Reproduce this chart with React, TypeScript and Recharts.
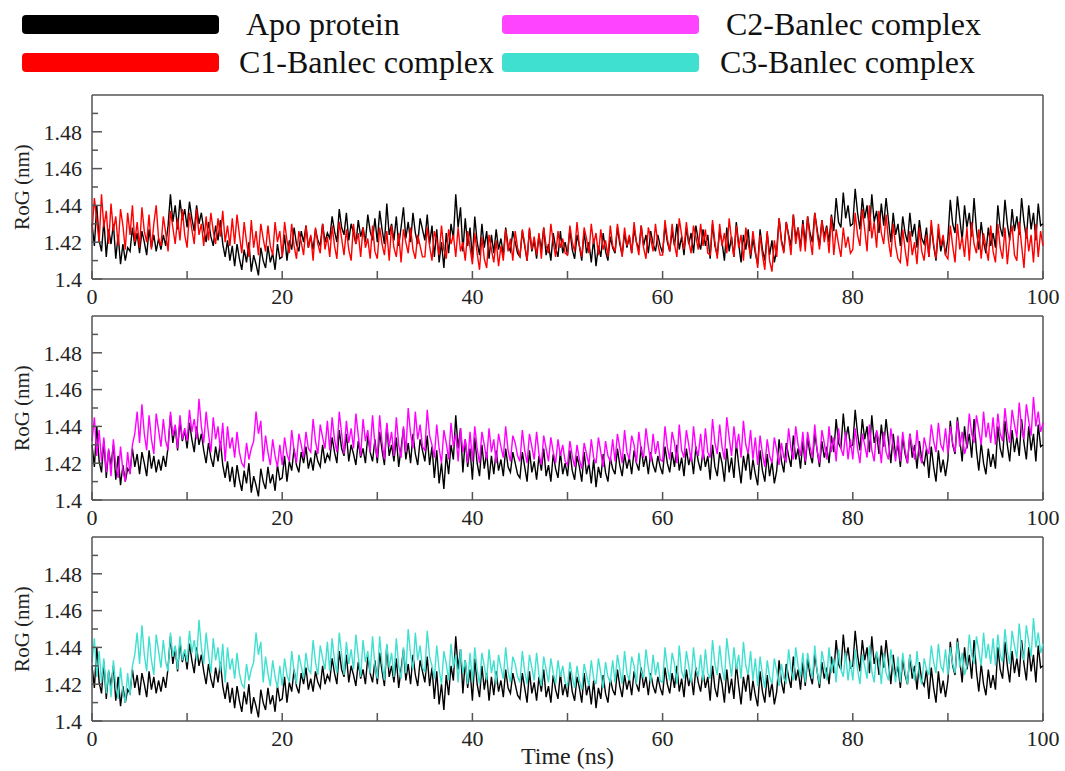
import { LineChart, Line, XAxis, YAxis, ReferenceLine } from "recharts";

const TIME_STEP_NS = 0.25;

const apoRog = [
  1.430, 1.418, 1.440, 1.421, 1.415, 1.432, 1.412, 1.427, 1.419, 1.430, 1.411, 1.424, 1.408, 1.419, 1.410, 1.417, 1.415, 1.428, 1.418, 1.425,
  1.414, 1.426, 1.420, 1.413, 1.427, 1.417, 1.424, 1.415, 1.422, 1.416, 1.424, 1.418, 1.429, 1.446, 1.431, 1.440, 1.427, 1.443, 1.432, 1.438,
  1.428, 1.442, 1.433, 1.426, 1.440, 1.430, 1.436, 1.427, 1.420, 1.431, 1.423, 1.418, 1.429, 1.421, 1.432, 1.419, 1.412, 1.421, 1.410, 1.418,
  1.407, 1.419, 1.411, 1.405, 1.416, 1.409, 1.420, 1.404, 1.413, 1.408, 1.402, 1.417, 1.410, 1.406, 1.418, 1.409, 1.414, 1.405, 1.419, 1.411,
  1.412, 1.424, 1.410, 1.421, 1.416, 1.428, 1.419, 1.415, 1.426, 1.420, 1.429, 1.417, 1.423, 1.416, 1.427, 1.421, 1.418, 1.430, 1.420, 1.425,
  1.422, 1.434, 1.426, 1.420, 1.438, 1.428, 1.424, 1.436, 1.421, 1.430, 1.425, 1.419, 1.432, 1.423, 1.428, 1.420, 1.435, 1.426, 1.421, 1.433,
  1.420, 1.437, 1.427, 1.419, 1.441, 1.424, 1.430, 1.421, 1.434, 1.418, 1.428, 1.439, 1.422, 1.431, 1.420, 1.436, 1.425, 1.419, 1.433, 1.427,
  1.421, 1.435, 1.419, 1.429, 1.412, 1.427, 1.409, 1.420, 1.406, 1.425, 1.414, 1.430, 1.422, 1.446, 1.428, 1.439, 1.415, 1.433, 1.418, 1.428,
  1.411, 1.434, 1.420, 1.413, 1.430, 1.417, 1.426, 1.411, 1.424, 1.414, 1.427, 1.416, 1.422, 1.413, 1.428, 1.418, 1.415, 1.426, 1.420, 1.414,
  1.412, 1.426, 1.418, 1.410, 1.427, 1.415, 1.421, 1.411, 1.424, 1.416, 1.428, 1.413, 1.419, 1.410, 1.425, 1.417, 1.412, 1.426, 1.414, 1.420,
  1.413, 1.427, 1.416, 1.411, 1.424, 1.418, 1.410, 1.426, 1.414, 1.420, 1.409, 1.422, 1.407, 1.418, 1.412, 1.425, 1.415, 1.410, 1.423, 1.417,
  1.414, 1.428, 1.419, 1.413, 1.425, 1.417, 1.423, 1.414, 1.427, 1.420, 1.416, 1.429, 1.418, 1.424, 1.414, 1.426, 1.419, 1.415, 1.424, 1.418,
  1.414, 1.429, 1.420, 1.415, 1.426, 1.418, 1.430, 1.416, 1.423, 1.413, 1.428, 1.419, 1.425, 1.414, 1.429, 1.421, 1.416, 1.427, 1.418, 1.424,
  1.411, 1.430, 1.418, 1.413, 1.426, 1.420, 1.410, 1.428, 1.415, 1.423, 1.412, 1.431, 1.419, 1.409, 1.424, 1.416, 1.427, 1.411, 1.422, 1.414,
  1.408, 1.427, 1.416, 1.410, 1.425, 1.413, 1.421, 1.409, 1.416, 1.433, 1.421, 1.415, 1.431, 1.424, 1.418, 1.435, 1.422, 1.428, 1.417, 1.432,
  1.419, 1.434, 1.425, 1.420, 1.436, 1.427, 1.418, 1.432, 1.423, 1.429, 1.420, 1.435, 1.426, 1.444, 1.431, 1.428, 1.447, 1.433, 1.440, 1.429,
  1.430, 1.449, 1.436, 1.427, 1.444, 1.433, 1.440, 1.426, 1.446, 1.431, 1.437, 1.425, 1.441, 1.429, 1.444, 1.432, 1.420, 1.436, 1.424, 1.430,
  1.418, 1.434, 1.425, 1.420, 1.436, 1.423, 1.430, 1.417, 1.432, 1.422, 1.419, 1.428, 1.412, 1.429, 1.418, 1.410, 1.427, 1.415, 1.422, 1.413,
  1.422, 1.443, 1.430, 1.425, 1.445, 1.433, 1.421, 1.440, 1.428, 1.436, 1.423, 1.444, 1.427, 1.416, 1.431, 1.420, 1.414, 1.428, 1.418, 1.425,
  1.417, 1.440, 1.428, 1.423, 1.443, 1.430, 1.421, 1.438, 1.426, 1.434, 1.424, 1.444, 1.431, 1.422, 1.440, 1.427, 1.436, 1.421, 1.441, 1.429,
  1.430,
];

const c1Rog = [
  1.425, 1.444, 1.432, 1.420, 1.446, 1.428, 1.437, 1.419, 1.441, 1.426, 1.434, 1.418, 1.438, 1.429, 1.416, 1.436, 1.424, 1.440, 1.420, 1.431,
  1.417, 1.439, 1.426, 1.420, 1.435, 1.416, 1.430, 1.440, 1.422, 1.418, 1.434, 1.425, 1.415, 1.437, 1.428, 1.419, 1.433, 1.421, 1.438, 1.424,
  1.417, 1.436, 1.427, 1.419, 1.438, 1.424, 1.430, 1.418, 1.434, 1.421, 1.436, 1.426, 1.419, 1.433, 1.423, 1.437, 1.420, 1.429, 1.418, 1.433,
  1.419, 1.435, 1.424, 1.414, 1.431, 1.420, 1.412, 1.432, 1.417, 1.426, 1.413, 1.430, 1.422, 1.415, 1.429, 1.418, 1.413, 1.431, 1.420, 1.426,
  1.412, 1.431, 1.421, 1.414, 1.430, 1.418, 1.411, 1.426, 1.420, 1.413, 1.429, 1.417, 1.424, 1.410, 1.428, 1.419, 1.414, 1.430, 1.416, 1.423,
  1.412, 1.429, 1.418, 1.411, 1.431, 1.422, 1.413, 1.427, 1.416, 1.410, 1.430, 1.419, 1.425, 1.412, 1.428, 1.417, 1.422, 1.411, 1.429, 1.415,
  1.411, 1.428, 1.419, 1.413, 1.426, 1.410, 1.429, 1.417, 1.412, 1.425, 1.409, 1.427, 1.420, 1.414, 1.428, 1.416, 1.411, 1.424, 1.418, 1.412,
  1.412, 1.428, 1.418, 1.410, 1.426, 1.421, 1.413, 1.429, 1.416, 1.411, 1.427, 1.419, 1.424, 1.412, 1.428, 1.415, 1.420, 1.410, 1.426, 1.417,
  1.408, 1.425, 1.414, 1.405, 1.423, 1.411, 1.406, 1.424, 1.416, 1.409, 1.421, 1.407, 1.418, 1.410, 1.427, 1.415, 1.422, 1.410, 1.426, 1.417,
  1.412, 1.427, 1.419, 1.410, 1.428, 1.416, 1.423, 1.413, 1.425, 1.411, 1.428, 1.418, 1.414, 1.430, 1.420, 1.412, 1.426, 1.417, 1.422, 1.414,
  1.413, 1.429, 1.420, 1.415, 1.431, 1.418, 1.412, 1.428, 1.422, 1.414, 1.430, 1.419, 1.425, 1.413, 1.427, 1.416, 1.421, 1.412, 1.429, 1.418,
  1.415, 1.430, 1.421, 1.412, 1.428, 1.418, 1.424, 1.414, 1.431, 1.420, 1.413, 1.429, 1.417, 1.411, 1.428, 1.422, 1.415, 1.430, 1.419, 1.413,
  1.413, 1.432, 1.422, 1.415, 1.430, 1.419, 1.412, 1.433, 1.424, 1.416, 1.431, 1.420, 1.414, 1.429, 1.423, 1.416, 1.430, 1.418, 1.427, 1.414,
  1.413, 1.432, 1.420, 1.411, 1.430, 1.418, 1.425, 1.414, 1.433, 1.421, 1.412, 1.429, 1.417, 1.424, 1.410, 1.428, 1.419, 1.413, 1.426, 1.416,
  1.406, 1.424, 1.413, 1.405, 1.426, 1.410, 1.404, 1.421, 1.412, 1.433, 1.420, 1.414, 1.431, 1.423, 1.413, 1.435, 1.419, 1.428, 1.415, 1.430,
  1.415, 1.434, 1.422, 1.413, 1.436, 1.425, 1.416, 1.432, 1.420, 1.428, 1.414, 1.434, 1.413, 1.427, 1.419, 1.412, 1.428, 1.417, 1.423, 1.414,
  1.416, 1.436, 1.424, 1.418, 1.438, 1.427, 1.415, 1.440, 1.422, 1.431, 1.417, 1.437, 1.425, 1.419, 1.435, 1.421, 1.412, 1.430, 1.418, 1.411,
  1.409, 1.427, 1.416, 1.407, 1.426, 1.413, 1.420, 1.408, 1.428, 1.415, 1.410, 1.424, 1.412, 1.432, 1.419, 1.411, 1.430, 1.418, 1.424, 1.413,
  1.411, 1.429, 1.418, 1.409, 1.430, 1.416, 1.423, 1.412, 1.428, 1.410, 1.431, 1.419, 1.414, 1.427, 1.411, 1.425, 1.417, 1.410, 1.429, 1.415,
  1.409, 1.430, 1.417, 1.411, 1.428, 1.408, 1.422, 1.429, 1.413, 1.410, 1.431, 1.418, 1.406, 1.428, 1.415, 1.424, 1.409, 1.430, 1.412, 1.426,
  1.418,
];

const c2Rog = [
  1.432, 1.445, 1.424, 1.438, 1.421, 1.434, 1.415, 1.428, 1.413, 1.433, 1.419, 1.412, 1.429, 1.416, 1.410, 1.426, 1.414, 1.430, 1.436, 1.448,
  1.431, 1.452, 1.436, 1.427, 1.446, 1.433, 1.425, 1.447, 1.438, 1.429, 1.444, 1.432, 1.427, 1.448, 1.435, 1.441, 1.428, 1.446, 1.433, 1.439,
  1.432, 1.449, 1.437, 1.444, 1.433, 1.455, 1.440, 1.431, 1.448, 1.436, 1.426, 1.445, 1.433, 1.440, 1.427, 1.442, 1.421, 1.440, 1.428, 1.434,
  1.423, 1.437, 1.426, 1.420, 1.418, 1.431, 1.422, 1.428, 1.432, 1.448, 1.436, 1.443, 1.421, 1.435, 1.426, 1.419, 1.433, 1.424, 1.418, 1.430,
  1.419, 1.434, 1.425, 1.421, 1.438, 1.427, 1.420, 1.436, 1.430, 1.423, 1.437, 1.428, 1.426, 1.444, 1.432, 1.425, 1.441, 1.434, 1.428, 1.443,
  1.427, 1.445, 1.433, 1.426, 1.448, 1.436, 1.425, 1.443, 1.431, 1.439, 1.428, 1.447, 1.435, 1.424, 1.444, 1.432, 1.438, 1.426, 1.446, 1.430,
  1.423, 1.446, 1.431, 1.422, 1.442, 1.429, 1.437, 1.424, 1.445, 1.430, 1.423, 1.440, 1.426, 1.450, 1.436, 1.428, 1.448, 1.433, 1.441, 1.429,
  1.427, 1.449, 1.435, 1.430, 1.423, 1.441, 1.428, 1.420, 1.438, 1.431, 1.422, 1.442, 1.429, 1.436, 1.421, 1.439, 1.426, 1.433, 1.420, 1.437,
  1.421, 1.440, 1.428, 1.420, 1.437, 1.430, 1.422, 1.439, 1.426, 1.433, 1.420, 1.436, 1.429, 1.423, 1.440, 1.427, 1.421, 1.435, 1.431, 1.424,
  1.421, 1.438, 1.427, 1.420, 1.436, 1.429, 1.422, 1.437, 1.425, 1.419, 1.435, 1.428, 1.421, 1.434, 1.426, 1.420, 1.433, 1.424, 1.430, 1.421,
  1.419, 1.432, 1.424, 1.418, 1.430, 1.422, 1.417, 1.431, 1.425, 1.419, 1.433, 1.423, 1.420, 1.434, 1.426, 1.418, 1.432, 1.424, 1.421, 1.433,
  1.421, 1.436, 1.428, 1.420, 1.438, 1.426, 1.422, 1.435, 1.430, 1.420, 1.437, 1.427, 1.423, 1.439, 1.429, 1.421, 1.436, 1.425, 1.432, 1.422,
  1.421, 1.440, 1.429, 1.422, 1.437, 1.431, 1.420, 1.441, 1.427, 1.423, 1.438, 1.430, 1.421, 1.440, 1.428, 1.424, 1.436, 1.422, 1.439, 1.426,
  1.423, 1.444, 1.431, 1.425, 1.441, 1.429, 1.422, 1.445, 1.434, 1.424, 1.440, 1.428, 1.436, 1.423, 1.443, 1.430, 1.425, 1.438, 1.422, 1.434,
  1.419, 1.435, 1.425, 1.418, 1.433, 1.424, 1.420, 1.434, 1.427, 1.419, 1.431, 1.423, 1.421, 1.439, 1.428, 1.422, 1.440, 1.430, 1.424, 1.437,
  1.421, 1.437, 1.429, 1.423, 1.441, 1.427, 1.420, 1.438, 1.431, 1.422, 1.440, 1.426, 1.434, 1.421, 1.439, 1.428, 1.424, 1.437, 1.422, 1.433,
  1.422, 1.439, 1.428, 1.420, 1.436, 1.430, 1.423, 1.441, 1.427, 1.421, 1.438, 1.432, 1.420, 1.437, 1.426, 1.422, 1.439, 1.429, 1.421, 1.435,
  1.421, 1.437, 1.427, 1.420, 1.436, 1.429, 1.422, 1.438, 1.425, 1.420, 1.434, 1.428, 1.425, 1.441, 1.432, 1.426, 1.442, 1.430, 1.427, 1.439,
  1.425, 1.440, 1.431, 1.426, 1.443, 1.429, 1.437, 1.425, 1.430, 1.447, 1.436, 1.431, 1.446, 1.438, 1.430, 1.448, 1.434, 1.442, 1.431, 1.445,
  1.430, 1.447, 1.436, 1.432, 1.450, 1.438, 1.431, 1.449, 1.441, 1.434, 1.453, 1.439, 1.433, 1.452, 1.443, 1.435, 1.456, 1.440, 1.448, 1.437,
  1.442,
];

// the C3 panel shows the very same trace as the C2 panel
const c3Rog = c2Rog;

const xTicks = [0, 10, 20, 30, 40, 50, 60, 70, 80, 90, 100];
const xLabelTicks = [0, 20, 40, 60, 80, 100];
const yTicks = [1.4, 1.41, 1.42, 1.43, 1.44, 1.45, 1.46, 1.47, 1.48, 1.49, 1.5];
const yLabelTicks = [1.4, 1.42, 1.44, 1.46, 1.48];

const legendItems = [
  { name: "Apo protein", color: "#000000" },
  { name: "C1-Banlec complex", color: "#ff0000" },
  { name: "C2-Banlec complex", color: "#ff44ff" },
  { name: "C3-Banlec complex", color: "#40e0d0" },
];

const rows = apoRog.map((v, i) => ({
  t: i * TIME_STEP_NS,
  apo: v,
  c1: c1Rog[i],
  c2: c2Rog[i],
  c3: c3Rog[i],
}));

const SERIF = { fontFamily: '"Liberation Serif", "DejaVu Serif", serif' };
const FRAME = "#555";
const PLOT_H = 184;
const TOP_PAD = 6;

const XTick = (props: any) => {
  const { x, y, payload } = props;
  const axisY = y - 9;
  return (
    <g>
      <line x1={x} x2={x} y1={axisY} y2={axisY - 8} stroke={FRAME} strokeWidth={1.5} />
      {xLabelTicks.includes(payload.value) && (
        <text x={x} y={y} dy="0.71em" textAnchor="middle" fontSize={22} style={SERIF} fill="#222">
          {payload.value}
        </text>
      )}
    </g>
  );
};

const YTick = (props: any) => {
  const { x, y, payload } = props;
  const axisX = x + 10;
  const major = yLabelTicks.includes(payload.value);
  if (payload.value === 1.5) return <g />;
  return (
    <g>
      <line x1={axisX} x2={axisX + (major ? 10 : 6)} y1={y} y2={y} stroke={FRAME} strokeWidth={1.5} />
      {major && (
        <text x={x} y={y} dy="0.35em" textAnchor="end" fontSize={22} style={SERIF} fill="#222">
          {payload.value}
        </text>
      )}
    </g>
  );
};

const RogLabel = (props: any) => {
  const vb = props.viewBox;
  const cx = 22;
  const cy = vb.y + vb.height / 2;
  return (
    <text x={cx} y={cy} transform={`rotate(-90 ${cx} ${cy})`} textAnchor="middle" dominantBaseline="central" fontSize={21} style={SERIF} fill="#222">
      RoG (nm)
    </text>
  );
};

const TimeLabel = (props: any) => {
  const vb = props.viewBox;
  return (
    <text x={vb.x + vb.width / 2} y={vb.y + 43} textAnchor="middle" fontSize={24} style={SERIF} fill="#222">
      Time (ns)
    </text>
  );
};

function Panel({ top, seriesKey, color, timeLabel }: { top: number; seriesKey: string; color: string; timeLabel?: boolean }) {
  const xAxisH = timeLabel ? 48 : 36;
  return (
    <div style={{ position: "absolute", left: 0, top: top - TOP_PAD }}>
      <LineChart width={1065} height={TOP_PAD + PLOT_H + xAxisH} data={rows} margin={{ top: TOP_PAD, right: 22, left: 0, bottom: 0 }}>
        <XAxis
          dataKey="t"
          type="number"
          domain={[0, 100]}
          ticks={xTicks}
          interval={0}
          tick={XTick}
          tickLine={false}
          tickSize={0}
          tickMargin={9}
          height={xAxisH}
          axisLine={{ stroke: FRAME, strokeWidth: 1.5 }}
          label={timeLabel ? TimeLabel : undefined}
        />
        <YAxis
          type="number"
          domain={[1.4, 1.5]}
          ticks={yTicks}
          interval={0}
          tick={YTick}
          tickLine={false}
          tickSize={0}
          tickMargin={10}
          width={92}
          axisLine={{ stroke: FRAME, strokeWidth: 1.5 }}
          label={RogLabel}
        />
        <ReferenceLine y={1.5} stroke={FRAME} strokeWidth={1.5} />
        <ReferenceLine x={100} stroke={FRAME} strokeWidth={1.5} />
        <Line type="linear" dataKey="apo" stroke="#000000" strokeWidth={1.4} dot={false} isAnimationActive={false} />
        <Line type="linear" dataKey={seriesKey} stroke={color} strokeWidth={1.4} dot={false} isAnimationActive={false} />
      </LineChart>
    </div>
  );
}

function Legend() {
  const spots = [
    { x: 22, y: 15, tx: 246 },
    { x: 22, y: 53, tx: 239 },
    { x: 502, y: 15, tx: 726 },
    { x: 502, y: 53, tx: 720 },
  ];
  return (
    <svg width={1065} height={85} style={{ position: "absolute", left: 0, top: 0 }}>
      {legendItems.map((item, i) => (
        <g key={item.name}>
          <rect x={spots[i].x} y={spots[i].y} width={197} height={19} rx={4} fill={item.color} />
          <text x={spots[i].tx} y={spots[i].y + 20} fontSize={32} style={SERIF} fill="#111">
            {item.name}
          </text>
        </g>
      ))}
    </svg>
  );
}

export default function App() {
  return (
    <div style={{ position: "absolute", left: 0, top: 0, width: 1065, height: 771, background: "#fff", ...SERIF }}>
      <Legend />
      <Panel top={95} seriesKey="c1" color="#ff0000" />
      <Panel top={316} seriesKey="c2" color="#ff00ff" />
      <Panel top={537} seriesKey="c3" color="#40e0d0" timeLabel />
    </div>
  );
}
